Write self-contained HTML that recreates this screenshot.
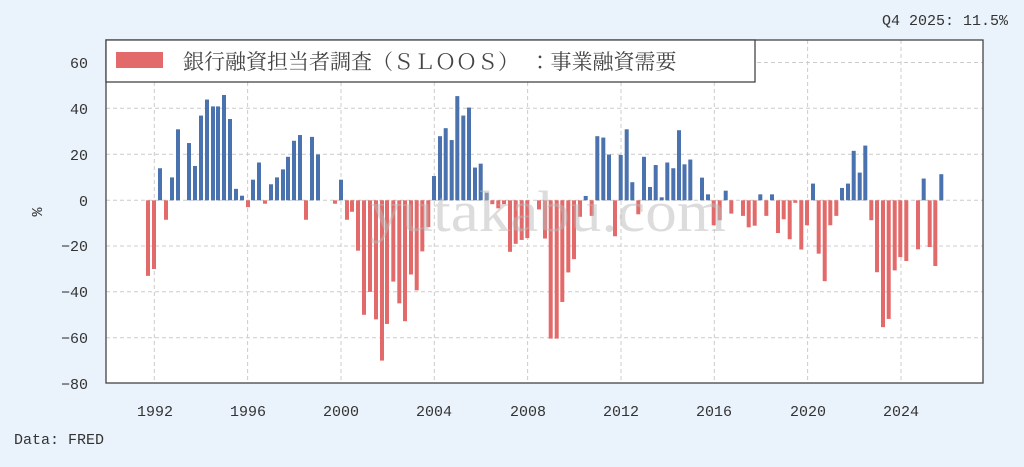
<!DOCTYPE html>
<html><head><meta charset="utf-8"><style>
body{margin:0;width:1024px;height:462px;background:#eaf2fb;overflow:hidden}
svg text{font-family:"Liberation Mono","Noto Serif CJK JP",monospace;fill:#333}
</style></head><body>
<svg width="1024" height="462" viewBox="0 0 1024 462">
<rect x="106" y="40" width="877" height="343" fill="#fff"/>
<g stroke="#ccc" stroke-dasharray="4,3" stroke-width="1">
<line x1="106" x2="983" y1="62.5" y2="62.5"/><line x1="106" x2="983" y1="108.3" y2="108.3"/><line x1="106" x2="983" y1="154.3" y2="154.3"/><line x1="106" x2="983" y1="200.3" y2="200.3"/><line x1="106" x2="983" y1="246" y2="246"/><line x1="106" x2="983" y1="291.7" y2="291.7"/><line x1="106" x2="983" y1="337.7" y2="337.7"/>
<line y1="40" y2="383" x1="154.3" x2="154.3"/><line y1="40" y2="383" x1="247.6" x2="247.6"/><line y1="40" y2="383" x1="341" x2="341"/><line y1="40" y2="383" x1="434.3" x2="434.3"/><line y1="40" y2="383" x1="527.6" x2="527.6"/><line y1="40" y2="383" x1="621" x2="621"/><line y1="40" y2="383" x1="714.3" x2="714.3"/><line y1="40" y2="383" x1="807.6" x2="807.6"/><line y1="40" y2="383" x1="901" x2="901"/>
</g>
<g id="bars"></g>
<text x="370" y="231" font-size="58" textLength="356" lengthAdjust="spacingAndGlyphs" style="font-family:'Liberation Serif',serif;fill:#bbb;opacity:0.5">yutakabu.com</text>
<rect x="106" y="40" width="877" height="343" fill="none" stroke="#444" stroke-width="1.3"/>
<rect x="106" y="40" width="649" height="42" fill="#fff" stroke="#444" stroke-width="1.3"/>
<rect x="116" y="52" width="47" height="16" fill="#e36a6a"/>
<text x="183" y="69" font-size="21" style="font-family:'Noto Serif CJK JP',serif;fill:#444">銀行融資担当者調査（ＳＬＯＯＳ）　：事業融資需要</text>
<g font-size="15" text-anchor="end">
<text x="88" y="68">60</text><text x="88" y="114">40</text><text x="88" y="160">20</text><text x="88" y="206">0</text><text x="88" y="251">−20</text><text x="88" y="297">−40</text><text x="88" y="343">−60</text><text x="88" y="389">−80</text>
</g>
<g font-size="15" text-anchor="middle">
<text x="155" y="416">1992</text><text x="248" y="416">1996</text><text x="341" y="416">2000</text><text x="434" y="416">2004</text><text x="528" y="416">2008</text><text x="621" y="416">2012</text><text x="714" y="416">2016</text><text x="808" y="416">2020</text><text x="901" y="416">2024</text>
</g>
<text x="42" y="212" font-size="15" text-anchor="middle" transform="rotate(-90 42 212)">%</text>
<text x="1008" y="25" font-size="15" text-anchor="end">Q4 2025: 11.5%</text>
<text x="14" y="444" font-size="15">Data: FRED</text>
</svg>
<script>
var d=[[148,-33],[154,-30],[160,14],[166,-8.5],[172,10],[178,31],[189,25],[195,15],[201,37],[207,44],[213,41],[218,41],[224,46],[230,35.5],[236,5],[242,2],[248,-3],[253,9],[259,16.5],[265,-1.5],[271,7],[277,10],[283,13.5],[288,19],[294,26],[300,28.5],[306,-8.5],[312,27.7],[318,20],[335,-1.5],[341,9],[347,-8.5],[352,-5],[358,-22],[364,-50],[370,-40],[376,-52],[382,-70],[387,-54],[393.3,-35.5],[399.3,-45],[405,-52.8],[411,-32.4],[416.7,-39.3],[422.3,-22.3],[428.3,-11.7],[434,10.6],[440,28],[445.7,31.5],[451.7,26.3],[457.3,45.5],[463.3,37],[469,40.5],[475,14.3],[480.7,16],[486.7,3.3],[492.3,-1.7],[498.3,-3.5],[504,-1.7],[510,-22.5],[515.7,-19],[521.7,-17.3],[527.3,-16.5],[539,-4],[545,-16.7],[550.7,-60.4],[556.7,-60.4],[562.3,-44.4],[568.3,-31.5],[574,-25.7],[580,-7.2],[585.7,1.9],[591.7,-6.8],[597.3,28],[603.3,27.4],[609,20],[615,-15.7],[620.7,19.8],[626.7,31],[632.3,7.9],[638.3,-6.1],[644,19],[650,5.8],[655.7,15.4],[661.7,1.3],[667.3,16.5],[673.3,14],[679,30.6],[684.5,15.7],[690.3,17.8],[702,9.9],[708,2.6],[713.7,-10.9],[719.7,-8.7],[725.7,4.2],[731.3,-5.8],[743,-6.8],[748.7,-11.8],[754.7,-11.1],[760.3,2.6],[766.3,-6.8],[772,2.6],[778,-14.3],[783.7,-8.3],[789.7,-17],[795.3,-1.1],[801.3,-21.5],[807,-10.9],[813,7.3],[818.7,-23.3],[824.7,-35.3],[830.3,-10.9],[836.3,-6.8],[842,5.4],[848,7.3],[853.7,21.6],[859.7,12.1],[865.3,23.9],[871.3,-8.7],[877,-31.4],[883,-55.4],[888.7,-51.8],[894.7,-30.6],[900.3,-24.8],[906.3,-26.5],[918,-21.4],[923.7,9.5],[929.7,-20.4],[935.3,-28.7],[941.3,11.4]];
var s='',z=200.3,k=2.29;
d.forEach(function(b){var h=Math.abs(b[1])*k,y=b[1]>0?z-h:z;s+='<rect x="'+(b[0]-2)+'" y="'+y+'" width="4" height="'+h+'" fill="'+(b[1]>0?'#4a72ae':'#e36a6a')+'"/>';});
document.getElementById('bars').innerHTML=s;
</script>
</body></html>
